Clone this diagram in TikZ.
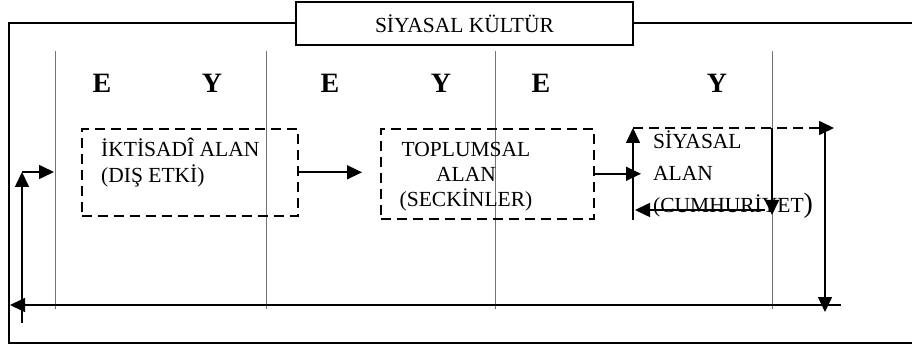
\documentclass[tikz,border=0pt]{standalone}
\usepackage{fontspec}
\setmainfont{Liberation Serif}
\usetikzlibrary{arrows.meta}
\tikzset{
    line/.style={
        line width=1.6pt
    },
    arrow/.style={
        line,
        -{Triangle[length=15pt, width=14pt]}
    },
    dashbox/.style={
        line,
        draw,
        dash pattern=on 10pt off 6pt,
        inner sep=0pt
    },
    lane/.style={
        black!55,
        line width=1pt
    },
    txt/.style={
        font=\fontsize{21.5}{25}\selectfont,
        inner sep=0pt
    },
    letter/.style={
        font=\fontsize{28}{28}\selectfont\bfseries,
        inner sep=0pt,
        anchor=base
    }
}

\begin{document}
\begin{tikzpicture}[x=1pt, y=-1pt]
    \useasboundingbox (0,0) rectangle (912,347);

    % outer frame, open to the right
    \draw [line] (912,23) -- (9,23) -- (9,343) -- (912,343);
    \node [line, draw, fill=white, txt, minimum width=337pt, minimum height=43pt] (kultur) at (464.5,23.5) {SİYASAL KÜLTÜR};

    \foreach \x in {55, 266, 495, 772} {
        \draw [lane] (\x,51) -- (\x,309);
    }
    \foreach \x/\l in {102/E, 212/Y, 330/E, 441/Y, 541/E, 717/Y} {
        \node [letter] (letter\x) at (\x,93) {\l};
    }

    \node [dashbox, minimum width=216pt, minimum height=87pt, anchor=north west] (iktisadi) at (81,128) {};
    \node [txt, align=left, anchor=base west, font=\fontsize{21.5}{26}\selectfont] (iktisadi-text) at (101,183) {İKTİSADÎ ALAN\\(DIŞ ETKİ)};

    \node [dashbox, minimum width=213pt, minimum height=90pt, anchor=north west] (toplumsal) at (380,128) {};
    \node [txt, align=center, anchor=base] (toplumsal-text) at (466,207) {TOPLUMSAL\\ALAN\\(SECKİNLER)};

    \node [txt, align=left, anchor=base west, font=\fontsize{21.5}{32}\selectfont] (siyasal) at (653,213) {SİYASAL\\ALAN\\(CUMHURİYET{\fontsize{28}{28}\selectfont)}};

    \coordinate (siyasal-in) at (641,172);
    \coordinate (siyasal-sw) at (633,220);
    \coordinate (siyasal-nw) at (633,128);
    \coordinate (siyasal-ne) at (834,128);
    \coordinate (drop-top) at (825,128);
    \coordinate (drop-bottom) at (825,312);
    \coordinate (return-right) at (841,305);
    \coordinate (return-left) at (10,305);
    \coordinate (rise-bottom) at (22,323);
    \coordinate (rise-top) at (22,172);
    \coordinate (feed-in) at (54,172);
    \coordinate (inner-top) at (772,128);
    \coordinate (inner-bottom) at (772,215);
    \coordinate (inner-right) at (765,210);
    \coordinate (inner-left) at (635,210);

    \draw [arrow, shorten >=18pt] (iktisadi.east) -- (iktisadi.east -| toplumsal.west);
    \draw [arrow] (toplumsal.east) -- (toplumsal.east -| siyasal-in);

    \draw [arrow] (siyasal-sw) -- (siyasal-nw);
    \draw [arrow, dash pattern=on 10pt off 6pt] (siyasal-nw) -- (siyasal-ne);
    \draw [arrow] (inner-top) -- (inner-bottom);
    \draw [arrow] (inner-right) -- (inner-left);
    \draw [arrow] (drop-top) -- (drop-bottom);

    \draw [arrow] (return-right) -- (return-left);
    \draw [arrow] (rise-bottom) -- (rise-top);
    \draw [arrow] (rise-top) -- (feed-in);
\end{tikzpicture}
\end{document}
